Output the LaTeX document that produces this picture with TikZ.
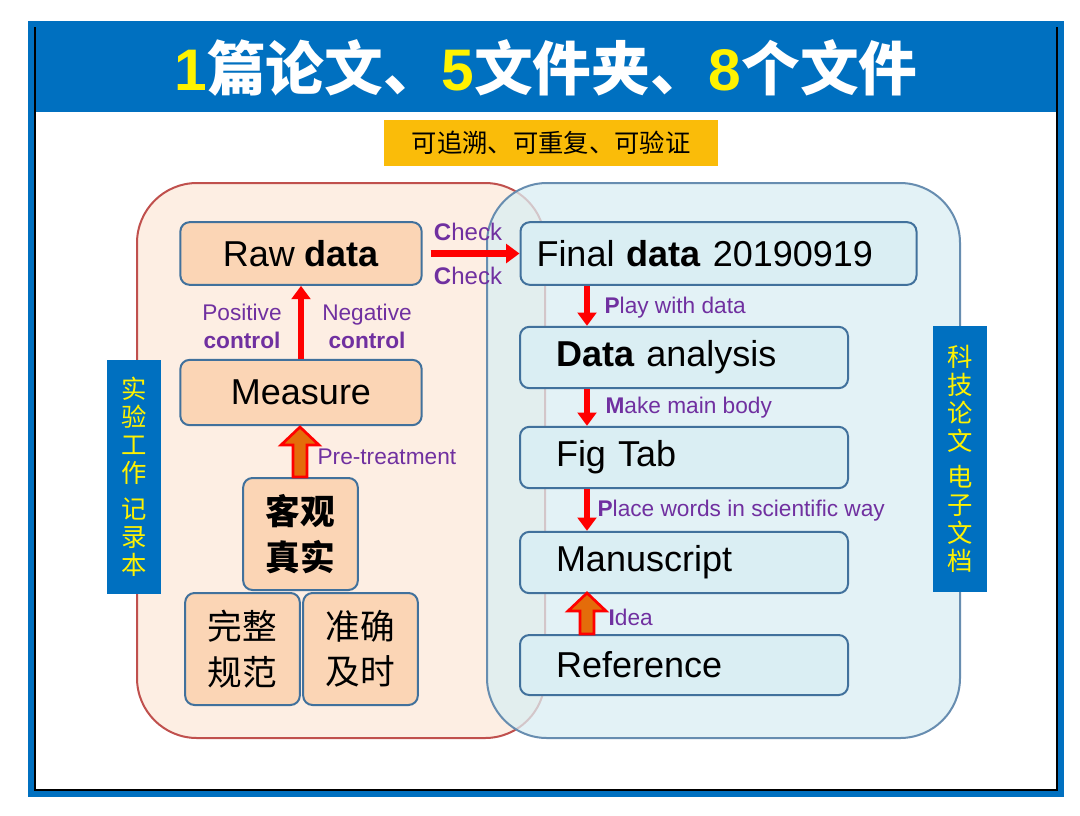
\documentclass[tikz,border=0pt]{standalone}
\usepackage{fontspec}
\setmainfont{Liberation Sans}
\newfontfamily\cjk{Noto Sans CJK SC}
\usetikzlibrary{arrows.meta}
\definecolor{tblue}{HTML}{0070C0}
\definecolor{purp}{HTML}{7030A0}
\definecolor{peach}{HTML}{FBD5B5}
\definecolor{lpeach}{HTML}{FDEEE3}
\definecolor{lblue}{HTML}{DAEEF3}
\definecolor{bedge}{HTML}{41719C}
\definecolor{redge}{HTML}{C0504D}
\definecolor{oarrow}{HTML}{E46C0A}
\tikzset{
 lbox/.style={draw=bedge,line width=1.5pt,fill=peach,rounded corners=7pt,inner sep=0pt},
 rbox/.style={draw=bedge,line width=1.5pt,fill=lblue,rounded corners=7pt,inner ysep=0pt,inner xsep=27pt,align=left},
 lab/.style={text=purp,font=\fontsize{17}{19}\selectfont,inner sep=1pt},
 redar/.style={red,line width=5pt,-{Triangle[length=10pt,width=14pt]}},
 orar/.style={draw=red,line width=2pt,fill=oarrow},
}
\newcommand\blockup[3]{% x, ybottom, ytop
 \path[orar] (#1-7,#2) -- (#1-7,#3+18) -- (#1-19,#3+18) -- (#1,#3) -- (#1+19,#3+18) -- (#1+7,#3+18) -- (#1+7,#2) -- cycle;}
\begin{document}
\begin{tikzpicture}[x=0.75pt,y=-0.75pt]
\useasboundingbox (0,0) rectangle (1080,815);
\fill[white] (0,0) rectangle (1080,815);
% frame
\draw[tblue,line width=4pt] (31,24) rectangle (1061,794);
\draw[black,line width=2pt] (35,28) rectangle (1057,790);
\fill[tblue] (36,27) rectangle (1056,112);
\node (title) at (546,68) {\fontsize{44}{48}\selectfont\bfseries\textcolor{yellow}{1}\textcolor{white}{\cjk 篇论文、}\textcolor{yellow}{5}\textcolor{white}{\cjk 文件夹、}\textcolor{yellow}{8}\textcolor{white}{\cjk 个文件}};
\node[fill=yellow!50!orange,minimum width=250pt,minimum height=34pt,font=\cjk\fontsize{19}{22}\selectfont] (sub) at (551,143) {可追溯、可重复、可验证};
% regions
\draw[fill=lpeach,draw=redge,line width=1.5pt,rounded corners=45pt] (137,183) rectangle (545,738);
\draw[fill=lblue,fill opacity=0.75,draw=bedge!80,line width=1.5pt,rounded corners=45pt] (487,183) rectangle (960,738);
% side labels
\node[fill=tblue,text=yellow,minimum width=41pt,minimum height=176pt,font=\cjk\fontsize{19}{21}\selectfont,align=center] (lside) at (134,477) {实\\验\\工\\作\\[6pt]记\\录\\本};
\node[fill=tblue,text=yellow,minimum width=41pt,minimum height=200pt,font=\cjk\fontsize{19}{21}\selectfont,align=center] (rside) at (960,459) {科\\技\\论\\文\\[6pt]电\\子\\文\\档};
% left boxes
\begin{scope}[every node/.append style={font=\fontsize{27}{30}\selectfont}]
\node[lbox,minimum width=181pt,minimum height=47pt] (raw) at (301,253.5) {Raw \textbf{data}};
\node[lbox,minimum width=181pt,minimum height=49pt] (meas) at (301,392.5) {Measure};
\node[rbox,text width=273pt,inner xsep=12pt,minimum height=47pt] (final) at (718.5,253.5) {Final \textbf{data} 20190919};
\node[rbox,text width=192pt,minimum height=46pt] (ana) at (684,357.5) {\textbf{Data} analysis};
\node[rbox,text width=192pt,minimum height=46pt] (fig) at (684,457.5) {Fig Tab};
\node[rbox,text width=192pt,minimum height=46pt] (man) at (684,562.5) {Manuscript};
\node[rbox,text width=192pt,minimum height=45pt] (ref) at (684,665) {Reference};
\end{scope}
\begin{scope}[every node/.append style={font=\cjk\fontsize{26}{34}\selectfont,align=center}]
\node[lbox,minimum width=86pt,minimum height=84pt] (kg) at (300.5,534) {\bfseries 客观\\\bfseries 真实};
\node[lbox,minimum width=86pt,minimum height=84pt] (wz) at (242.5,649) {完整\\规范};
\node[lbox,minimum width=86pt,minimum height=84pt] (zq) at (360.5,649) {准确\\及时};
\end{scope}
\coordinate (x1) at (587,0);
% arrows
\draw[redar] ([xshift=6pt]raw.east) -- (final.west);
\node[lab,font=\fontsize{18}{20}\selectfont] at (468,232) {\textbf{C}heck};
\node[lab,font=\fontsize{18}{20}\selectfont] at (468,276) {\textbf{C}heck};
\draw[redar] (meas.north) -- (raw.south);
\node[lab,align=center] at (242,326) {Positive\\[2pt]\textbf{control}};
\node[lab,align=center] at (367,326) {Negative\\[2pt]\textbf{control}};
\blockup{300}{477}{427}
\node[lab,anchor=west] at (316,457) {Pre-treatment};
\draw[redar] (x1 |- final.south) -- (x1 |- ana.north);
\node[lab,anchor=west] at (603,308) {\textbf{P}lay with data};
\draw[redar] (x1 |- ana.south) -- (x1 |- fig.north);
\node[lab,anchor=west] at (604,408) {\textbf{M}ake main body};
\draw[redar] (x1 |- fig.south) -- (x1 |- man.north);
\node[lab,anchor=west] at (596,511) {\textbf{P}lace words in scientific way};
\blockup{587}{634}{593}
\node[lab,anchor=west] at (607,617) {\textbf{I}dea};
\end{tikzpicture}
\end{document}
